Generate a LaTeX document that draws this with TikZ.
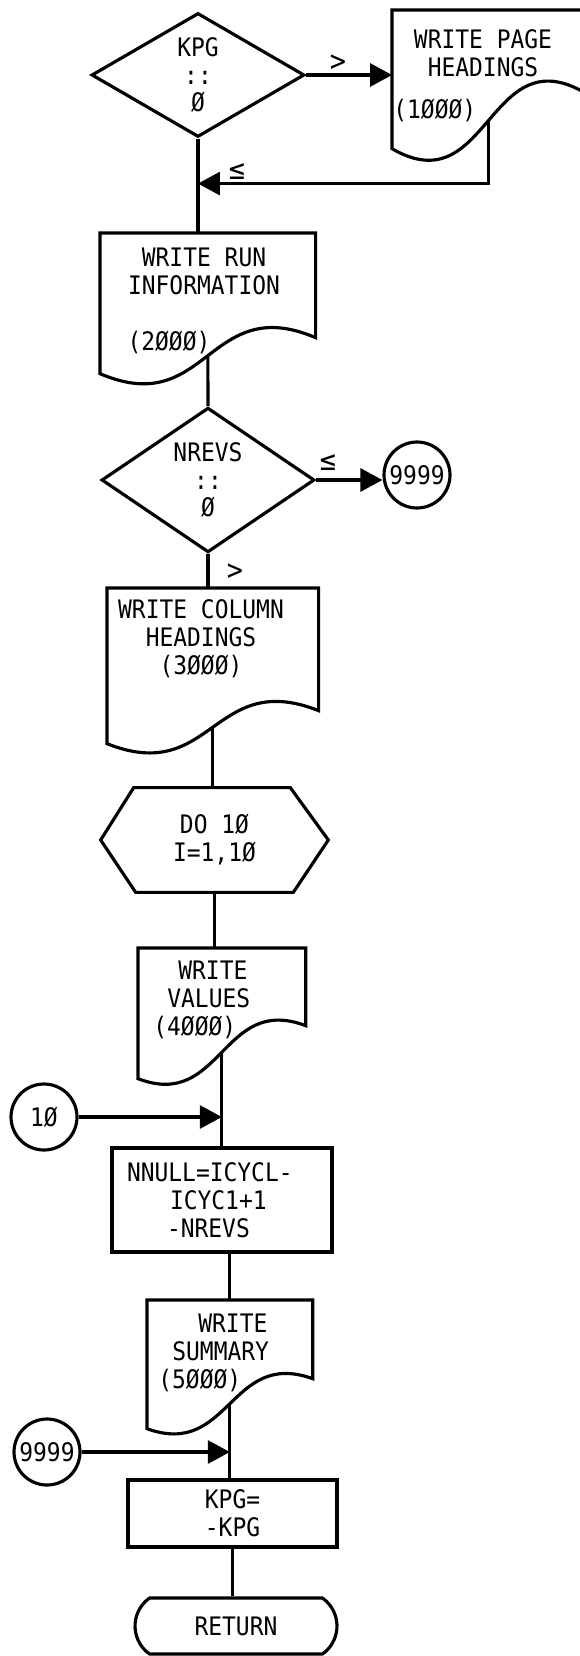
\documentclass[tikz,border=0pt]{standalone}
\usepackage{fontspec}
\newfontfamily\chartfont[FakeStretch=0.9]{DejaVu Sans Mono}
\usetikzlibrary{shapes.geometric, shapes.misc, arrows.meta, calc}

\tikzset{
  flow/.style={line width=1.8pt},
  arr/.style={flow, -{Triangle[length=0.44cm,width=0.46cm]}},
  decision/.style={diamond, draw, flow, minimum width=4.26cm, minimum height=2.48cm, inner sep=0pt, align=center},
  docbox/.style={rectangle, inner sep=0pt, anchor=north west},
  loopbox/.style={rectangle, inner sep=0pt, minimum width=4.54cm, minimum height=2.08cm, align=center},
  process/.style={rectangle, draw, flow, inner sep=0pt, align=center},
  terminal/.style={rounded rectangle, rounded rectangle arc length=110, draw, flow, inner sep=0pt},
  connector/.style={circle, draw, flow, minimum size=1.32cm, inner sep=0pt},
  lbl/.style={inner sep=0pt},
  cmp/.style={inner sep=0pt, font=\chartfont\fontsize{17}{17}\selectfont}
}

% printout box: flat top, wavy bottom; #2 = rise of right corner, #3 = bulge
\newcommand{\docshape}[3]{%
  \draw[flow] (#1.north west) -- (#1.north east) -- ($(#1.south east)+(0,-#2)$)
    .. controls ($(#1.south)+(0,-#2-#3)$) and ($(#1.south)+(0,#3)$) .. (#1.south west) -- cycle;
  \coordinate (#1-out) at ($(#1.south)+(0,-#2/2)$);}

\begin{document}
\begin{tikzpicture}[x=0.02cm, y=-0.02cm, font=\chartfont\fontsize{14.5}{15.9}\selectfont]
  \useasboundingbox (0,0) rectangle (579,1656);

  % page headings only when KPG > 0
  \node[decision] (kpg) at (198,75) {KPG\\::\\Ø};
  \node[docbox, minimum width=3.84cm, minimum height=2.76cm] (pagehd) at (392,10) {};
  \docshape{pagehd}{56}{56}
  \node[lbl, align=center] (pagehd-txt) at (483,53) {WRITE PAGE\\HEADINGS};
  \node[lbl, anchor=west] (pagehd-no) at (393,110) {(1ØØØ)};
  \draw[arr] (kpg.east) -- (kpg.east -| pagehd.west);
  \node[cmp] (gt1) at (338,63) {>};
  \coordinate (ret1) at ($(kpg.south)+(0,45)$);
  \draw[flow] (kpg.south) -- (kpg.south |- 0,233);
  \draw[arr] (pagehd-out) |- (ret1);
  \node[cmp] (le1) at (237,172) {≤};

  % run information
  \node[docbox, minimum width=4.30cm, minimum height=2.80cm] (runinfo) at (100,233) {};
  \docshape{runinfo}{36}{46}
  \node[lbl, align=center] (runinfo-txt) at (204,271) {WRITE RUN\\INFORMATION};
  \node[lbl] (runinfo-no) at (169,342) {(2ØØØ)};

  % no revolutions -> skip to 9999
  \node[decision] (nrevs) at (208,480) {NREVS\\::\\Ø};
  \node[connector] (exit1) at (417,475) {9999};
  \draw[flow] (runinfo-out) -- (nrevs.north);
  \draw[arr] (nrevs.east) -- (nrevs.east -| exit1.west);
  \node[cmp] (le2) at (328,463) {≤};

  % column headings
  \node[docbox, minimum width=4.22cm, minimum height=3.10cm] (colhd) at (107,588) {};
  \docshape{colhd}{33}{42}
  \node[lbl, align=center] (colhd-txt) at (201,639) {WRITE COLUMN\\HEADINGS\\(3ØØØ)};
  \draw[flow] (nrevs.south) -- (nrevs.south |- colhd.north);
  \node[cmp] (gt2) at (235,572) {>};

  % loop over values
  \node[loopbox] (doloop) at (214.5,840) {DO 1Ø\\I=1,1Ø};
  \draw[flow] (doloop.west) -- ($(doloop.north west)+(33,0)$) -- ($(doloop.north east)+(-38,0)$)
    -- (doloop.east) -- ($(doloop.south east)+(-35,0)$) -- ($(doloop.south west)+(35,0)$) -- cycle;
  \draw[flow] (colhd-out) -- (colhd-out |- doloop.north);

  \node[docbox, minimum width=3.34cm, minimum height=2.60cm] (values) at (138,948) {};
  \docshape{values}{53}{32}
  \node[lbl, align=left, anchor=west] (values-txt) at (153,1000)
    {\hspace*{0.5cm}WRITE\\\hspace*{0.28cm}VALUES\\(4ØØØ)};
  \draw[flow] (doloop.south) -- (doloop.south |- values.north);

  % loop end
  \node[connector] (loopend) at (44,1117) {1Ø};
  \node[process, minimum width=4.4cm, minimum height=2.08cm, text width=3.8cm, inner xsep=0.3cm, align=left]
    (nnull) at (222,1200) {NNULL=ICYCL-\\\hspace*{0.86cm}ICYC1+1\\\hspace*{0.8cm}-NREVS};
  \draw[flow] (values-out) -- (values-out |- nnull.north);
  \draw[arr] (loopend.east) -- (loopend.east -| values-out);

  % summary
  \node[docbox, minimum width=3.30cm, minimum height=2.56cm] (summary) at (147,1300) {};
  \docshape{summary}{50}{30}
  \node[lbl, align=left, anchor=west] (summary-txt) at (158,1353)
    {\hspace*{0.8cm}WRITE\\\hspace*{0.28cm}SUMMARY\\(5ØØØ)};
  \draw[flow] (summary.north |- nnull.south) -- (summary.north);

  % flip sign and return
  \node[connector] (exit2) at (47,1452) {9999};
  \node[process, minimum width=4.18cm, minimum height=1.34cm] (kpgset) at (232.5,1513.5) {KPG=\\-KPG};
  \draw[flow] (summary-out) -- (summary-out |- kpgset.north);
  \draw[arr] (exit2.east) -- (exit2.east -| summary-out);
  \node[terminal, minimum width=4.04cm, minimum height=1.12cm] (done) at (236,1626) {RETURN};
  \draw[flow] (kpgset.south) -- (kpgset.south |- done.north);
\end{tikzpicture}
\end{document}
